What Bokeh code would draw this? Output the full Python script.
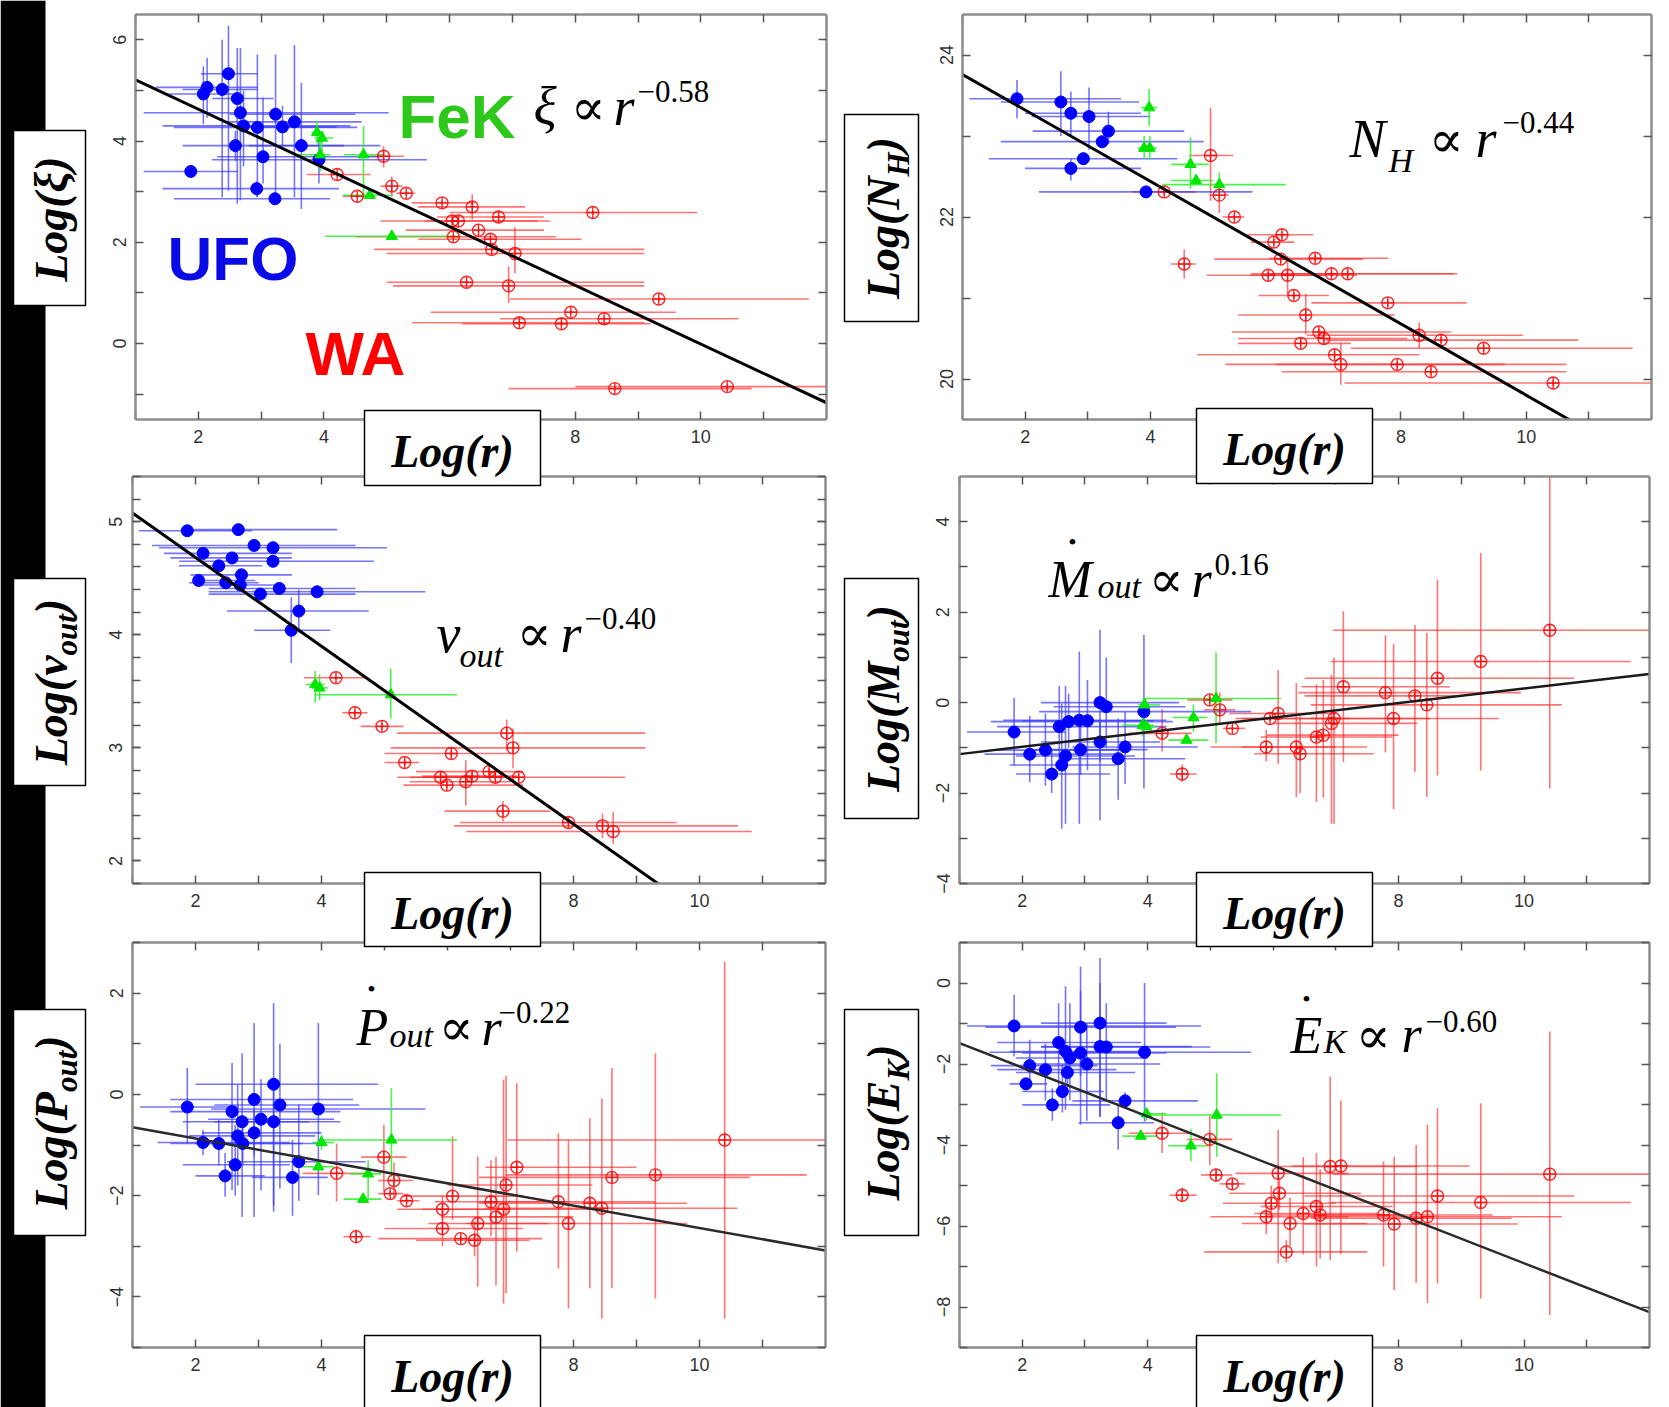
import math
from bokeh.plotting import figure
from bokeh.models import (Range1d, LinearAxis, FixedTicker, Label, ColumnDataSource, GridBox)
from bokeh.embed import file_html
from bokeh.resources import INLINE

# ---------------------------------------------------------------- data
# each row: (log r, value, log r low, log r high, value low, value high)
X_MAJOR = [2, 4, 6, 8, 10]
X_MINOR = [1, 3, 5, 7, 9, 11]

XI_UFO = [
    (1.88, 3.40, 1.13, 2.63, 3.38, 3.42), (2.08, 4.93, 1.53, 2.55, 4.33, 5.48),
    (2.14, 5.06, 1.32, 2.94, 4.46, 5.64), (2.38, 5.02, 1.75, 2.94, 2.89, 6.00),
    (2.48, 5.33, 2.04, 2.94, 3.02, 6.28), (2.62, 4.84, 2.22, 3.20, 2.76, 5.84),
    (2.67, 4.56, 1.13, 5.03, 2.83, 5.84), (2.72, 4.30, 1.43, 4.42, 3.50, 5.00),
    (2.94, 4.27, 1.61, 4.53, 2.89, 5.71), (2.59, 3.91, 1.75, 4.32, 3.60, 4.20),
    (3.03, 3.69, 2.30, 4.90, 3.16, 4.86), (2.93, 3.06, 1.43, 4.24, 2.90, 3.20),
    (3.22, 2.86, 1.61, 4.10, 2.80, 2.92), (3.23, 4.53, 2.50, 4.50, 2.89, 5.71),
    (3.34, 4.28, 2.60, 4.20, 3.90, 4.70), (3.53, 4.38, 2.40, 4.60, 2.89, 5.90),
    (3.64, 3.91, 2.80, 4.90, 2.66, 5.15), (3.92, 3.63, 2.22, 5.64, 3.16, 4.07),
]
XI_FEK = [
    (3.89, 4.17, 3.80, 4.00, 3.95, 4.40), (3.97, 4.06, 3.85, 4.15, 3.70, 4.20),
    (3.94, 3.73, 3.60, 4.10, 3.40, 4.05), (4.63, 3.73, 4.32, 4.95, 2.90, 4.30),
    (4.73, 2.93, 4.30, 5.10, 2.88, 2.98), (5.08, 2.12, 4.02, 6.17, 2.07, 2.17),
]
XI_WA = [
    (4.21, 3.34, 3.73, 4.74, 3.30, 3.38), (4.95, 3.70, 4.58, 5.27, 3.48, 3.90),
    (4.53, 2.91, 4.30, 4.80, 2.86, 2.96), (5.08, 3.11, 4.90, 5.25, 2.90, 3.30),
    (5.31, 2.97, 5.15, 5.45, 2.93, 3.01), (5.88, 2.78, 5.40, 6.40, 2.74, 2.82),
    (6.36, 2.70, 5.50, 7.20, 2.45, 2.95), (6.04, 2.42, 4.90, 7.40, 2.38, 2.46),
    (6.14, 2.42, 5.60, 7.60, 2.38, 2.46), (6.46, 2.24, 5.30, 7.50, 2.20, 2.28),
    (6.06, 2.11, 4.50, 7.70, 2.07, 2.15), (6.65, 2.06, 5.50, 8.10, 2.02, 2.10),
    (6.67, 1.86, 4.80, 9.10, 1.82, 1.90), (7.04, 1.78, 5.00, 9.10, 1.39, 2.30),
    (6.27, 1.21, 5.00, 9.10, 1.17, 1.25), (6.94, 1.14, 5.10, 9.10, 0.80, 1.52),
    (6.78, 2.50, 5.80, 7.50, 2.46, 2.54), (8.28, 2.59, 6.00, 9.94, 2.55, 2.63),
    (9.33, 0.88, 6.96, 11.72, 0.84, 0.92), (7.93, 0.62, 5.70, 9.60, 0.58, 0.66),
    (7.11, 0.41, 5.40, 9.10, 0.37, 0.45), (7.78, 0.39, 6.20, 9.20, 0.35, 0.43),
    (8.46, 0.49, 6.80, 10.60, 0.45, 0.53), (8.63, -0.89, 6.94, 10.81, -0.93, -0.85),
    (10.42, -0.85, 8.00, 12.00, -0.89, -0.81),
]
XI_FIT = (5.79, -0.58)

NH_UFO = [
    (1.87, 23.46, 1.11, 3.53, 23.22, 23.69), (2.57, 23.42, 1.61, 3.82, 23.00, 23.80),
    (2.73, 23.28, 2.00, 3.85, 23.00, 23.55), (3.02, 23.24, 2.10, 4.00, 22.83, 23.60),
    (3.33, 23.06, 2.12, 4.54, 22.90, 23.30), (3.23, 22.93, 1.61, 4.85, 22.85, 23.00),
    (2.93, 22.72, 1.42, 4.43, 22.65, 22.80), (2.73, 22.60, 2.00, 3.85, 22.45, 22.72),
    (3.93, 22.31, 2.22, 5.63, 22.26, 22.36),
]
NH_FEK = [
    (3.98, 23.35, 3.85, 4.10, 23.12, 23.58), (3.90, 22.85, 3.80, 4.00, 22.72, 23.00),
    (3.99, 22.85, 3.90, 4.10, 22.70, 23.00), (4.64, 22.65, 4.33, 4.93, 22.35, 22.98),
    (4.73, 22.45, 4.33, 5.00, 22.40, 22.50), (5.10, 22.40, 4.19, 6.16, 22.25, 22.55),
]
NH_WA = [
    (4.96, 22.76, 4.62, 5.32, 22.20, 23.35), (4.22, 22.31, 3.72, 4.73, 22.27, 22.35),
    (5.10, 22.27, 4.95, 5.25, 22.05, 22.48), (5.34, 22.00, 5.15, 5.50, 21.96, 22.04),
    (4.54, 21.42, 4.33, 4.73, 21.24, 21.60), (6.10, 21.78, 5.55, 6.60, 21.74, 21.82),
    (5.97, 21.69, 5.60, 6.30, 21.65, 21.73), (6.08, 21.48, 5.02, 7.40, 21.44, 21.52),
    (6.63, 21.49, 5.90, 7.80, 21.45, 21.53), (5.88, 21.28, 4.90, 7.30, 21.24, 21.32),
    (6.19, 21.28, 5.60, 6.80, 21.05, 21.52), (6.89, 21.30, 5.60, 8.90, 21.26, 21.34),
    (7.15, 21.30, 5.90, 8.84, 21.26, 21.34), (6.29, 21.03, 5.73, 6.85, 20.99, 21.07),
    (7.79, 20.94, 6.57, 9.05, 20.90, 20.98), (6.48, 20.79, 5.40, 7.90, 20.55, 21.05),
    (6.69, 20.58, 5.30, 8.80, 20.54, 20.62), (6.77, 20.50, 5.40, 8.10, 20.46, 20.54),
    (6.40, 20.44, 5.40, 7.20, 20.40, 20.48), (6.94, 20.30, 4.75, 8.30, 20.26, 20.34),
    (7.04, 20.18, 5.20, 9.66, 19.93, 20.44), (8.29, 20.54, 6.50, 9.95, 20.38, 20.70),
    (8.64, 20.48, 6.80, 10.83, 20.44, 20.52), (9.32, 20.38, 7.20, 11.70, 20.34, 20.42),
    (7.94, 20.18, 6.00, 10.64, 20.14, 20.22), (8.48, 20.09, 6.10, 10.64, 20.05, 20.13),
    (10.43, 19.95, 7.10, 12.00, 19.91, 19.99),
]
NH_FIT = (24.2, -0.44)

V_UFO = [
    (1.87, 4.92, 1.10, 2.90, 4.90, 4.95), (2.68, 4.93, 1.90, 4.25, 4.90, 4.96),
    (2.93, 4.79, 1.31, 4.54, 4.76, 4.83), (3.23, 4.77, 1.42, 5.04, 4.74, 4.80),
    (2.12, 4.72, 1.50, 3.53, 4.69, 4.75), (2.58, 4.68, 1.60, 3.53, 4.65, 4.71),
    (3.23, 4.65, 1.74, 4.83, 4.62, 4.68), (2.37, 4.61, 1.74, 3.06, 4.58, 4.64),
    (2.73, 4.53, 1.92, 3.53, 4.50, 4.56), (2.05, 4.48, 1.95, 2.95, 4.45, 4.51),
    (2.48, 4.46, 1.90, 3.00, 4.43, 4.49), (2.71, 4.44, 2.00, 3.40, 4.41, 4.47),
    (3.03, 4.36, 2.21, 4.54, 4.33, 4.39), (3.33, 4.41, 2.21, 4.54, 4.38, 4.44),
    (3.93, 4.38, 2.21, 5.65, 4.35, 4.41), (3.64, 4.21, 2.50, 4.75, 4.02, 4.40),
    (3.52, 4.04, 2.93, 4.14, 3.75, 4.33),
]
V_FEK = [
    (3.90, 3.56, 3.75, 4.05, 3.40, 3.68), (3.97, 3.53, 3.85, 4.10, 3.42, 3.65),
    (5.10, 3.47, 3.90, 6.15, 3.26, 3.70),
]
V_WA = [
    (4.23, 3.62, 3.72, 4.70, 3.60, 3.64), (4.53, 3.31, 4.33, 4.73, 3.28, 3.34),
    (4.96, 3.19, 4.62, 5.30, 3.16, 3.22), (5.32, 2.87, 5.00, 5.55, 2.84, 2.90),
    (6.06, 2.95, 5.00, 7.00, 2.92, 2.98), (5.89, 2.74, 5.20, 7.00, 2.71, 2.77),
    (5.99, 2.67, 5.30, 7.20, 2.64, 2.70), (6.29, 2.70, 5.40, 7.00, 2.49, 2.89),
    (6.39, 2.75, 5.60, 7.10, 2.72, 2.78), (6.66, 2.79, 5.50, 7.20, 2.76, 2.82),
    (6.76, 2.74, 5.60, 7.10, 2.71, 2.77), (6.88, 2.44, 5.95, 7.63, 2.35, 2.53),
    (6.94, 3.13, 5.20, 9.14, 2.98, 3.25), (7.04, 3.00, 5.10, 9.14, 2.82, 3.17),
    (7.13, 2.74, 5.40, 8.82, 2.71, 2.77), (7.92, 2.34, 6.20, 9.64, 2.31, 2.37),
    (8.46, 2.31, 6.10, 10.61, 2.20, 2.42), (8.63, 2.26, 6.30, 10.83, 2.15, 2.43),
]
V_FIT = (5.47, -0.393)

M_UFO = [
    (1.87, -0.65, 1.12, 2.69, -1.39, 0.10), (2.12, -1.14, 1.40, 3.50, -1.76, -0.29),
    (2.37, -1.05, 1.60, 3.70, -1.84, -0.24), (2.47, -1.58, 1.90, 3.40, -2.00, -1.05),
    (2.59, -0.53, 1.60, 4.30, -1.45, 0.37), (2.63, -1.38, 1.80, 3.50, -2.79, -0.02),
    (2.69, -1.18, 1.90, 3.80, -2.68, 0.37), (2.74, -0.42, 1.50, 4.40, -1.00, 0.20),
    (2.91, -0.39, 1.70, 4.30, -2.68, 1.13), (3.04, -0.40, 2.00, 4.10, -1.50, 0.50),
    (2.93, -1.04, 2.20, 4.00, -1.60, -0.50), (3.24, 0.00, 2.30, 4.50, -2.60, 1.61),
    (3.34, -0.09, 2.50, 4.60, -1.00, 1.00), (3.24, -0.87, 2.30, 4.20, -1.30, -0.40),
    (3.53, -1.24, 2.70, 4.60, -2.15, -0.35), (3.64, -0.98, 2.80, 4.80, -1.80, -0.20),
    (3.94, -0.20, 2.27, 5.65, -1.90, 1.50),
]
M_FEK = [
    (3.95, -0.05, 3.85, 4.20, -0.20, 0.10), (3.92, -0.50, 3.60, 4.10, -0.75, -0.25),
    (3.98, -0.53, 3.85, 4.15, -0.60, -0.45), (4.73, -0.33, 4.40, 4.95, -0.65, -0.04),
    (4.62, -0.83, 4.33, 4.97, -0.88, -0.78), (5.09, 0.09, 3.92, 6.13, -0.90, 1.11),
]
M_WA = [
    (4.23, -0.68, 3.70, 4.70, -1.08, -0.14), (4.55, -1.58, 4.35, 4.78, -1.75, -1.37),
    (4.99, 0.06, 4.63, 5.35, -0.04, 0.16), (5.15, -0.16, 4.90, 5.40, -0.48, 0.22),
    (5.35, -0.57, 5.20, 5.55, -0.62, -0.52), (5.95, -0.35, 5.40, 7.20, -0.40, -0.30),
    (6.08, -0.24, 5.30, 7.00, -1.35, 0.72), (5.89, -0.98, 5.00, 7.00, -1.30, -0.60),
    (6.37, -0.98, 5.50, 7.50, -2.09, 0.43), (6.43, -1.13, 5.70, 7.60, -2.00, -0.30),
    (6.69, -0.76, 5.80, 7.90, -2.20, 0.40), (6.80, -0.72, 5.90, 8.00, -2.10, 0.50),
    (6.93, -0.46, 6.00, 8.30, -2.68, 0.61), (6.97, -0.35, 5.50, 8.50, -2.68, 1.00),
    (7.12, 0.35, 6.45, 8.82, -1.31, 2.02), (7.79, 0.22, 6.40, 9.95, -1.10, 1.49),
    (7.92, -0.35, 6.60, 9.60, -2.35, 1.30), (8.26, 0.15, 6.50, 9.00, -1.53, 1.71),
    (8.45, -0.05, 6.60, 10.60, -2.08, 1.54), (8.62, 0.54, 6.50, 10.80, -1.61, 2.72),
    (9.31, 0.91, 6.92, 11.70, -1.50, 3.31), (10.41, 1.60, 6.95, 12.00, -1.90, 5.00),
]
M_FIT = (-1.30, 0.161)

P_UFO = [
    (1.87, -0.25, 1.12, 2.69, -0.97, 0.52), (2.12, -0.95, 1.40, 3.50, -1.20, -0.70),
    (2.37, -0.97, 1.60, 3.70, -1.40, -0.50), (2.47, -1.61, 2.00, 3.10, -2.02, -1.16),
    (2.58, -0.34, 1.60, 4.30, -1.89, 0.62), (2.74, -0.54, 1.80, 3.80, -2.42, 0.81),
    (2.63, -1.39, 1.80, 3.50, -2.00, -0.60), (2.67, -0.82, 1.90, 3.90, -1.80, 0.20),
    (2.75, -0.97, 2.00, 4.00, -1.40, -0.50), (2.93, -0.10, 1.60, 4.50, -2.42, 1.41),
    (2.93, -0.76, 2.10, 4.00, -1.20, -0.30), (3.04, -0.49, 2.20, 4.20, -1.90, 0.30),
    (3.24, 0.20, 2.00, 4.90, -2.32, 1.80), (3.24, -0.54, 2.30, 4.30, -2.20, 0.30),
    (3.34, -0.21, 2.30, 4.60, -1.86, 1.00), (3.64, -1.33, 2.50, 4.70, -2.10, -0.20),
    (3.54, -1.64, 2.90, 4.10, -2.40, -0.90), (3.95, -0.29, 2.25, 5.65, -1.99, 1.41),
]
P_FEK = [
    (4.00, -0.95, 3.85, 4.20, -1.10, -0.80), (3.95, -1.43, 3.70, 4.20, -1.50, -1.35),
    (4.74, -1.57, 4.45, 4.95, -2.09, -1.30), (4.66, -2.07, 4.35, 4.95, -2.12, -2.02),
    (5.11, -0.90, 4.00, 6.15, -1.63, 0.12),
]
P_WA = [
    (4.24, -1.56, 3.70, 4.70, -2.12, -0.97), (4.55, -2.81, 4.35, 4.78, -2.95, -2.67),
    (4.99, -1.24, 4.63, 5.35, -1.92, -0.60), (5.15, -1.70, 4.90, 5.45, -2.05, -1.35),
    (5.09, -1.96, 4.90, 5.30, -2.00, -1.90), (5.35, -2.10, 5.20, 5.55, -2.15, -2.05),
    (6.08, -2.01, 5.30, 7.20, -2.48, -0.83), (5.92, -2.27, 5.20, 7.00, -2.50, -2.00),
    (5.92, -2.65, 5.00, 7.20, -3.00, -2.30), (6.21, -2.85, 4.90, 7.50, -2.90, -2.80),
    (6.43, -2.88, 5.50, 7.30, -3.20, -2.50), (6.48, -2.55, 5.70, 7.60, -3.80, -1.23),
    (6.69, -2.12, 5.80, 7.90, -2.80, -1.30), (6.77, -2.42, 5.90, 8.00, -3.77, -1.23),
    (6.93, -1.79, 6.00, 8.30, -3.93, 0.37), (7.10, -1.44, 6.60, 9.00, -3.11, 0.22),
    (6.89, -2.27, 5.60, 8.50, -4.13, 0.29), (7.76, -2.12, 6.50, 9.30, -3.44, -0.77),
    (7.92, -2.55, 6.30, 9.80, -4.23, -0.90), (8.26, -2.15, 6.50, 9.80, -3.83, -0.47),
    (8.45, -2.25, 6.60, 10.60, -4.43, -0.08), (8.61, -1.64, 6.50, 10.80, -3.83, 0.52),
    (9.30, -1.59, 6.92, 11.70, -4.03, 0.81), (10.40, -0.90, 6.95, 12.00, -4.43, 2.62),
]
P_FIT = (-0.43, -0.221)

E_UFO = [
    (1.87, -1.06, 1.12, 4.85, -1.81, -0.29), (2.93, -1.09, 1.41, 4.45, -2.30, 0.41),
    (3.24, -0.99, 2.30, 4.30, -3.30, 0.62), (2.58, -1.47, 1.60, 3.90, -2.60, -0.50),
    (2.69, -1.69, 1.80, 4.00, -3.13, -0.08), (2.76, -1.85, 1.90, 4.00, -2.90, -0.50),
    (2.93, -1.73, 2.00, 4.30, -3.50, -0.20), (3.03, -2.00, 2.20, 4.20, -3.40, -1.00),
    (3.24, -1.57, 2.30, 4.70, -3.30, 0.00), (3.34, -1.58, 2.30, 5.00, -2.90, -0.50),
    (3.95, -1.71, 1.48, 5.65, -3.42, 0.00), (2.12, -2.04, 1.50, 3.20, -2.60, -1.40),
    (2.37, -2.14, 1.60, 3.50, -2.90, -1.50), (2.72, -2.21, 1.90, 3.80, -2.60, -1.80),
    (2.06, -2.49, 1.80, 2.40, -2.60, -2.40), (2.64, -2.68, 2.00, 3.30, -3.20, -2.00),
    (2.48, -3.01, 2.00, 3.40, -3.40, -2.60), (3.64, -2.91, 2.80, 4.80, -3.10, -2.70),
    (3.53, -3.45, 2.90, 4.10, -4.12, -2.97),
]
E_FEK = [
    (3.98, -3.23, 3.85, 4.30, -3.40, -3.10), (3.89, -3.78, 3.60, 4.15, -3.85, -3.70),
    (4.69, -4.02, 4.33, 4.97, -4.40, -3.60), (5.10, -3.26, 3.92, 6.13, -4.29, -2.23),
]
E_WA = [
    (4.23, -3.71, 3.70, 4.70, -4.20, -3.20), (4.99, -3.86, 4.63, 5.35, -4.50, -3.25),
    (4.55, -5.24, 4.35, 4.78, -5.40, -5.05), (5.09, -4.74, 4.85, 5.35, -4.90, -4.60),
    (5.35, -4.96, 5.15, 5.55, -5.10, -4.85), (6.08, -4.70, 5.40, 7.20, -6.92, -3.63),
    (6.10, -5.19, 5.30, 7.40, -5.60, -4.80), (5.97, -5.44, 5.20, 7.00, -5.90, -5.00),
    (5.89, -5.77, 5.00, 7.20, -6.20, -5.40), (6.27, -5.94, 5.50, 7.50, -6.50, -5.30),
    (6.21, -6.64, 4.90, 7.50, -6.90, -6.35), (6.48, -5.69, 5.70, 7.70, -6.70, -4.30),
    (6.69, -5.52, 5.80, 7.90, -7.00, -4.20), (6.75, -5.73, 5.90, 8.00, -6.80, -4.60),
    (6.91, -4.53, 6.00, 8.30, -6.84, -2.31), (7.08, -4.52, 6.30, 9.13, -6.70, -2.90),
    (7.76, -5.73, 6.60, 9.50, -7.00, -4.41), (7.93, -5.95, 6.50, 9.90, -7.58, -4.29),
    (8.28, -5.81, 6.60, 9.80, -7.40, -4.00), (8.46, -5.77, 6.60, 10.60, -7.90, -3.50),
    (8.62, -5.26, 6.50, 10.80, -7.42, -3.09), (9.31, -5.42, 6.92, 11.70, -7.79, -2.97),
    (10.41, -4.72, 6.95, 12.00, -8.20, -1.20),
]
E_FIT = (-0.88, -0.604)

# ---------------------------------------------------------------- layout
PAGE_W, PAGE_H = 1669, 1407
COL_X, COL_W = [0, 836], [836, 833]
ROW_Y, ROW_H = [0, 468, 932], [468, 464, 475]

SERIF = "Liberation Serif"
SANS = "Liberation Sans"
MID = 0.34   # distance baseline -> middle of the em box, in em
EM = {"L": 0.611, "o": 0.5, "g": 0.5, "(": 0.333, ")": 0.333, "N": 0.722, "H": 0.778,
      "v": 0.444, "u": 0.556, "t": 0.278, "M": 0.889, "P": 0.611, "E": 0.667, "K": 0.667,
      "ξ": 0.5}

BLUE, BLUE_BAR = "#0000ff", "#3a3aff"
RED, RED_BAR = "#ff0000", "#ff2a2a"
GREEN, GREEN_BAR = "#00e600", "#2cf02c"


def style_axis(ax, show, vertical=False):
    ax.axis_line_color = "#8c8c8c"
    ax.axis_line_width = 2.5
    ax.major_tick_in = 8
    ax.major_tick_out = 0
    ax.minor_tick_in = 8
    ax.minor_tick_out = 0
    ax.major_tick_line_color = "#555555"
    ax.minor_tick_line_color = "#555555"
    ax.major_tick_line_width = 1.5
    ax.minor_tick_line_width = 1.5
    if show:
        ax.major_label_text_font = SANS
        ax.major_label_text_font_size = "18px"
        ax.major_label_text_color = "#333333"
        ax.major_label_standoff = 10
        if vertical:
            ax.major_label_orientation = "vertical"
    else:
        ax.major_label_text_font_size = "1px"
        ax.major_label_text_color = None
        ax.major_label_standoff = 0


def make_panel(col, r, frame, yr, ymaj, ymin):
    x0, w = COL_X[col], COL_W[col]
    y0, h = ROW_Y[r], ROW_H[r]
    fl, ft, fr, fb = frame
    p = figure(width=w, height=h, x_range=Range1d(1, 12), y_range=Range1d(*yr),
               output_backend="svg", toolbar_location=None, tools="",
               x_axis_type=None, y_axis_type=None,
               min_border_left=fl - x0, min_border_right=x0 + w - fr,
               min_border_top=ft - y0, min_border_bottom=y0 + h - fb)
    p.frame_align = False
    p.outline_line_color = None
    p.background_fill_color = "white"
    p.border_fill_color = "white"
    xt = FixedTicker(ticks=X_MAJOR, minor_ticks=X_MINOR)
    yt = FixedTicker(ticks=ymaj, minor_ticks=ymin)
    for loc, tk, show in (("below", xt, True), ("left", yt, True),
                          ("above", xt, False), ("right", yt, False)):
        ax = LinearAxis(ticker=tk)
        style_axis(ax, show, vertical=(loc == "left"))
        p.add_layout(ax, loc)
    return p


def src_of(rows):
    return ColumnDataSource(dict(
        x=[r[0] for r in rows], y=[r[1] for r in rows],
        xlo=[r[2] for r in rows], xhi=[r[3] for r in rows],
        ylo=[r[4] for r in rows], yhi=[r[5] for r in rows]))


def draw_data(p, ufo, fek, wa, fit, fit_w, fit_col):
    s_u, s_f, s_w = src_of(ufo), src_of(fek), src_of(wa)
    for s, c, a in ((s_w, RED_BAR, 0.65), (s_u, BLUE_BAR, 0.7), (s_f, GREEN_BAR, 0.85)):
        p.segment(x0="xlo", y0="y", x1="xhi", y1="y", source=s, line_color=c, line_alpha=a, line_width=1.6)
        p.segment(x0="x", y0="ylo", x1="x", y1="yhi", source=s, line_color=c, line_alpha=a, line_width=1.6)
    p.scatter("x", "y", source=s_w, marker="circle_cross", size=12, fill_color=None,
              line_color=RED, line_width=1.4, line_alpha=0.85)
    p.scatter("x", "y", source=s_u, marker="circle", size=12, fill_color=BLUE, line_color=BLUE)
    p.scatter("x", "y", source=s_f, marker="triangle", size=11, fill_color=GREEN, line_color=GREEN)
    a, b = fit
    xs = [1.0, 12.0]
    p.line(xs, [a + b * x for x in xs], line_color=fit_col, line_width=fit_w)


# ---------------------------------------------------------------- panels
pXI = make_panel(0, 0, (135, 14, 826, 419), (-1.5, 6.5), [0, 2, 4, 6], [-1, 1, 3, 5])
pNH = make_panel(1, 0, (962, 14, 1651, 419), (19.5, 24.5), [20, 22, 24], [21, 23])
pV = make_panel(0, 1, (132, 476, 825, 883), (1.8, 5.4), [2, 3, 4, 5],
                [round(1.8 + 0.2 * i, 1) for i in range(19)])
pM = make_panel(1, 1, (959, 476, 1649, 883), (-4, 5), [-4, -2, 0, 2, 4], [-3, -1, 1, 3])
pP = make_panel(0, 2, (132, 942, 825, 1347), (-5, 3), [-4, -2, 0, 2], [-5, -3, -1, 1, 3])
pE = make_panel(1, 2, (959, 942, 1649, 1347), (-9, 1), [-8, -6, -4, -2, 0], [-9, -7, -5, -3, -1, 1])

draw_data(pXI, XI_UFO, XI_FEK, XI_WA, XI_FIT, 3, "black")
draw_data(pNH, NH_UFO, NH_FEK, NH_WA, NH_FIT, 3, "black")
draw_data(pV, V_UFO, V_FEK, V_WA, V_FIT, 3, "black")
draw_data(pM, M_UFO, M_FEK, M_WA, M_FIT, 2.5, "#1a1a1a")
draw_data(pP, P_UFO, P_FEK, P_WA, P_FIT, 2.5, "#2a2a2a")
draw_data(pE, E_UFO, E_FEK, E_WA, E_FIT, 2.5, "#2a2a2a")

# ---------------------------------------------------------------- overlay (titles, boxes, labels)
ov = figure(width=PAGE_W, height=PAGE_H, x_range=Range1d(0, PAGE_W), y_range=Range1d(PAGE_H, 0),
            output_backend="svg", toolbar_location=None, tools="",
            x_axis_type=None, y_axis_type=None, min_border=0,
            background_fill_alpha=0, border_fill_alpha=0)
ov.frame_align = False
ov.outline_line_color = None

STRIP = dict(left=[0], right=[45], top=[0], bottom=[PAGE_H])
YBOXES = [(13, 130, 85, 305), (844, 114, 918, 321), (13, 578, 85, 785),
          (844, 578, 918, 818), (13, 1009, 85, 1235), (844, 1009, 918, 1235)]
XBOXES = [(364, 410, 540, 485), (1196, 408, 1372, 483), (364, 872, 540, 946),
          (1196, 872, 1372, 946), (364, 1335, 540, 1420), (1196, 1335, 1372, 1420)]

ov.quad(source=ColumnDataSource(STRIP), left="left", right="right", top="top", bottom="bottom",
        fill_color="black", line_color=None)
boxes = YBOXES + XBOXES
ov.quad(left=[b[0] for b in boxes], right=[b[2] for b in boxes],
        top=[b[1] for b in boxes], bottom=[b[3] for b in boxes],
        fill_color="white", line_color="black", line_width=1.5)


def ov_text(text, px, py, size, font=SERIF, style="italic", color="black",
            align="left", angle=0.0):
    # py is the vertical middle of the em box
    ov.add_layout(Label(x=px, y=py, text=text, text_font=font, text_font_size=f"{size}px",
                        text_font_style=style, text_color=color, text_align=align,
                        text_baseline="middle", angle=angle))


def ov_base(text, px, base, size, **kw):
    ov_text(text, px, base - MID * size, size, **kw)


def vtitle(cx, cy, parts):
    widths = [sum(EM.get(ch, 0.5) for ch in t) * s for t, s, d in parts]
    total = sum(widths)
    ys = cy + total / 2
    off = 0.0
    for (t, s, d), wdt in zip(parts, widths):
        ov_text(t, cx + d, ys - off, s, style="bold italic", angle=math.pi / 2)
        off += wdt


vtitle(51, 217.5, [("Log(ξ)", 46, 0)])
vtitle(883, 217.5, [("Log(N", 46, 0), ("H", 31, 15), (")", 46, 0)])
vtitle(51, 681.5, [("Log(v", 46, 0), ("out", 31, 15), (")", 46, 0)])
vtitle(883, 698, [("Log(M", 46, 0), ("out", 31, 15), (")", 46, 0)])
vtitle(51, 1122, [("Log(P", 46, 0), ("out", 31, 15), (")", 46, 0)])
vtitle(883, 1122, [("Log(E", 46, 0), ("K", 31, 15), (")", 46, 0)])

for x0, y0, x1, y1 in XBOXES:
    ov_base("Log(r)", (x0 + x1) / 2, y0 + 57, 46, style="bold italic", align="center")

# population labels
ov_base("UFO", 167, 279, 62, font=SANS, style="bold", color="#0a0ae6")
ov_base("FeK", 398, 137, 62, font=SANS, style="bold", color="#2ec81c")
ov_base("WA", 305, 374, 62, font=SANS, style="bold", color="#ff0000")

# scaling relations: (text, left x, baseline y, size, kind)
FORMULAS = [
    [("ξ", 533, 125, 54, "it"), ("∝", 570, 124, 52, "prop"), ("r", 613, 125, 54, "it"),
     ("−0.58", 637, 102, 31, "sup")],
    [("N", 1349, 157, 54, "it"), ("H", 1388, 172, 34, "it"), ("∝", 1428, 156, 52, "prop"),
     ("r", 1475, 157, 54, "it"), ("−0.44", 1502, 133, 31, "sup")],
    [("v", 436, 652, 54, "it"), ("out", 459, 667, 34, "it"), ("∝", 516, 650, 52, "prop"),
     ("r", 560, 652, 54, "it"), ("−0.40", 584, 629, 31, "sup")],
    [("•", 1072, 541, 24, "dot"), ("M", 1048, 597, 52, "it"), ("out", 1097, 598, 34, "it"),
     ("∝", 1148, 596, 52, "prop"), ("r", 1191, 597, 52, "it"), ("0.16", 1214, 575, 31, "sup")],
    [("•", 371, 988, 24, "dot"), ("P", 356, 1045, 52, "it"), ("out", 389, 1047, 34, "it"),
     ("∝", 438, 1044, 52, "prop"), ("r", 481, 1045, 52, "it"), ("−0.22", 498, 1023, 31, "sup")],
    [("•", 1306, 998, 24, "dot"), ("E", 1290, 1053, 52, "it"), ("K", 1323, 1053, 34, "it"),
     ("∝", 1355, 1052, 52, "prop"), ("r", 1401, 1052, 52, "it"), ("−0.60", 1425, 1032, 31, "sup")],
]
for pieces in FORMULAS:
    for t, px, py, size, kind in pieces:
        if kind == "dot":
            ov_text(t, px, py, size, style="normal", align="center")
        elif kind == "prop":
            ov_base(t, px, py, size, font="DejaVu Serif", style="normal")
        elif kind == "sup":
            ov_base(t, px, py, size, style="normal")
        else:
            ov_base(t, px, py, size, style="italic")

layout = GridBox(children=[(pXI, 0, 0), (pNH, 0, 1), (pV, 1, 0), (pM, 1, 1),
                           (pP, 2, 0), (pE, 2, 1), (ov, 0, 0, 3, 2)], spacing=0)
open("out.html", "w").write(file_html(layout, INLINE))
